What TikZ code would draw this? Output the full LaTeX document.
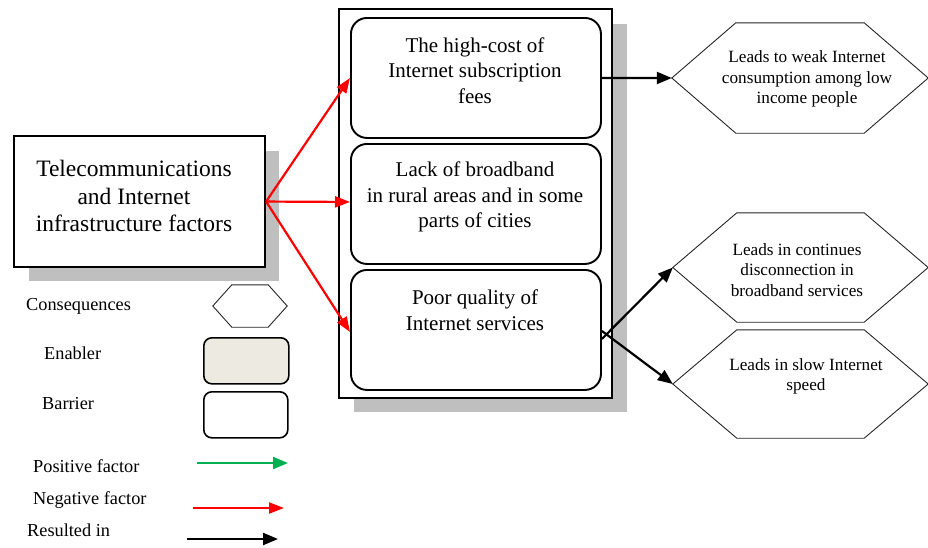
\documentclass[tikz,border=0pt]{standalone}
\usepackage{fontspec}
\setmainfont{Liberation Serif}
\usetikzlibrary{arrows.meta}
\definecolor{shadowgray}{HTML}{BFBFBF}
\definecolor{enablerfill}{HTML}{ECEAE1}
\definecolor{posgreen}{HTML}{00B050}
\tikzset{
  shadowbox/.style={fill=shadowgray, draw=none},
  mainbox/.style={draw=black, line width=2.1pt, fill=white, inner sep=0pt},
  barrierbox/.style={draw=black, line width=1.9pt, rounded corners=16pt, fill=white, inner sep=0pt, minimum width=250pt, minimum height=120pt, anchor=north west},
  hexframe/.style={draw=none, inner sep=0pt},
  hexline/.style={draw=black!85, line width=0.9pt, fill=white},
  boxtext/.style={align=center, font=\fontsize{21}{25.5}\selectfont, inner sep=0pt},
  hextext/.style={align=center, font=\fontsize{17.2}{20.6}\selectfont, inner sep=0pt},
  legtext/.style={anchor=west, font=\fontsize{18.3}{21}\selectfont, inner sep=0pt},
  negarrow/.style={draw=red, line width=2.2pt, -{Triangle[length=15pt,width=11pt]}},
  resarrow/.style={draw=black, line width=2.2pt, -{Triangle[length=15pt,width=12pt]}},
  posarrow/.style={draw=posgreen, line width=2.2pt, -{Triangle[length=15pt,width=12pt]}},
}
\begin{document}
\begin{tikzpicture}[x=1pt, y=-1pt]
\useasboundingbox (0,0) rectangle (928,547);
% shadows
\fill[shadowbox] (29,151) rectangle (279,281);
\fill[shadowbox] (354,24) rectangle (627,412);
% left box
\node[mainbox, minimum width=251pt, minimum height=131pt, anchor=north west] (L) at (13,135) {};
\node[align=center, font=\fontsize{23.5}{27.6}\selectfont, inner sep=0pt] (Ltext) at (134,196) {Telecommunications\\and Internet\\infrastructure factors};
% outer frame
\node[mainbox, minimum width=273pt, minimum height=389pt, anchor=north west] (frame) at (338,8) {};
% barrier boxes
\node[barrierbox] (b1) at (350,17) {};
\node[barrierbox] (b2) at (350,143) {};
\node[barrierbox] (b3) at (350,269) {};
\node[boxtext] (t1) at (475,70.5) {The high-cost of\\Internet subscription\\fees};
\node[boxtext] (t2) at (475,197) {Lack of broadband\\in rural areas and in some\\parts of cities};
\node[boxtext] (t3) at (475,310) {Poor quality of\\Internet services};
% hexagons
\node[hexframe, minimum width=256pt, minimum height=110pt] (h1) at (800,78) {};
\node[hexframe, minimum width=255pt, minimum height=109pt] (h2) at (800.5,267.5) {};
\node[hexframe, minimum width=255pt, minimum height=108pt] (h3) at (800.5,384) {};
\foreach \h in {h1,h2,h3}{
  \draw[hexline] (\h.west) -- ([xshift=64pt]\h.north west) -- ([xshift=-64pt]\h.north east) -- (\h.east) -- ([xshift=-64pt]\h.south east) -- ([xshift=64pt]\h.south west) -- cycle;
}
\node[hextext] (ht1) at (807,79) {Leads to weak Internet\\consumption among low\\income people};
\node[hextext] (ht2) at (797,270) {Leads in continues\\disconnection in\\broadband services};
\node[hextext] (ht3) at (806,376.5) {Leads in slow Internet\\speed};
% connectors
\draw[negarrow] (L.east) -- (b1.west);
\draw[negarrow] (L.east) -- ([yshift=2pt]b2.west);
\draw[negarrow] (L.east) -- ([yshift=-2pt]b3.west);
\draw[resarrow] (b1.east) -- (h1.west);
\draw[resarrow] ([yshift=-9pt]b3.east) -- (h2.west);
\draw[resarrow] ([yshift=-1pt]b3.east) -- (h3.west);
% legend
\node[hexframe, minimum width=74pt, minimum height=42pt] (lh) at (250,306) {};
\draw[hexline] (lh.west) -- ([xshift=19pt]lh.north west) -- ([xshift=-19pt]lh.north east) -- (lh.east) -- ([xshift=-19pt]lh.south east) -- ([xshift=19pt]lh.south west) -- cycle;
\node[draw=black, line width=1.6pt, rounded corners=8pt, fill=enablerfill, minimum width=85pt, minimum height=46pt, anchor=north west, inner sep=0pt] (le) at (203,337) {};
\node[draw=black, line width=1.6pt, rounded corners=8pt, fill=white, minimum width=84pt, minimum height=46pt, anchor=north west, inner sep=0pt] (lb) at (203,391) {};
\coordinate (gp1) at (197,463);
\coordinate (gp2) at (288,463);
\coordinate (rp1) at (193,508);
\coordinate (rp2) at (284,508);
\coordinate (bp1) at (187,539);
\coordinate (bp2) at (278,539);
\draw[posarrow] (gp1) -- (gp2);
\draw[negarrow] (rp1) -- (rp2);
\draw[resarrow] (bp1) -- (bp2);
\node[legtext] (lc) at (26,306) {Consequences};
\node[legtext] (len) at (44,353) {Enabler};
\node[legtext] (lba) at (42,404) {Barrier};
\node[legtext] (lpo) at (33,466) {Positive factor};
\node[legtext] (lne) at (33,500) {Negative factor};
\node[legtext] (lre) at (27,530) {Resulted in};
\end{tikzpicture}
\end{document}
